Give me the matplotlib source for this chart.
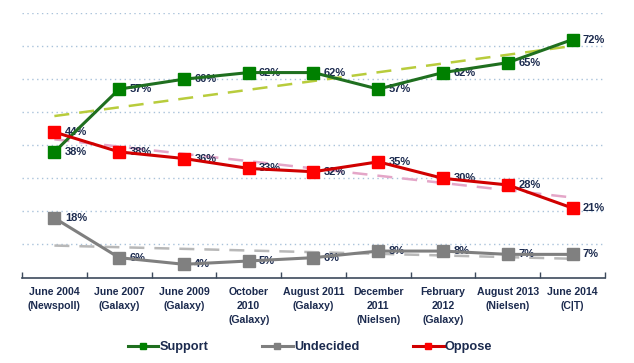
import numpy as np
import matplotlib.pyplot as plt
from matplotlib.lines import Line2D

categories = ["June 2004\n(Newspoll)", "June 2007\n(Galaxy)", "June 2009\n(Galaxy)",
              "October\n2010\n(Galaxy)", "August 2011\n(Galaxy)", "December\n2011\n(Nielsen)",
              "February\n2012\n(Galaxy)", "August 2013\n(Nielsen)", "June 2014\n(C|T)"]
support = [38, 57, 60, 62, 62, 57, 62, 65, 72]
undecided = [18, 6, 4, 5, 6, 8, 8, 7, 7]
oppose = [44, 38, 36, 33, 32, 35, 30, 28, 21]

FONT = ['Liberation Sans Narrow', 'Liberation Sans', 'DejaVu Sans']
NAVY = '#1c2b4f'

fig = plt.figure(figsize=(6.34, 3.63), dpi=100)
ax = fig.add_axes([0.0347, 0.2355, 0.9195, 0.7285])
x = np.arange(len(categories))

series = [
    ('Support', support, '#1f6f1f', '#008000', '#b8cc3c'),
    ('Undecided', undecided, '#7f7f7f', '#808080', '#b8b8b8'),
    ('Oppose', oppose, '#d00000', '#ff0000', '#e4a6c8'),
]

# trend lines (least squares fit of each series)
for name, vals, lc, mc, tc in series:
    k, b = np.polyfit(x, vals, 1)
    ax.plot([x[0], x[-1]], [b, k * x[-1] + b], color=tc, lw=1.8,
            dashes=(6, 4), zorder=2)

for name, vals, lc, mc, tc in series:
    ax.plot(x, vals, color=lc, lw=2.2, marker='s', markersize=8,
            markerfacecolor=mc, markeredgecolor=mc, zorder=4)
    for xi, v in zip(x, vals):
        ax.text(xi + 0.16, v, f'{v}%', ha='left', va='center', fontsize=8,
                fontweight='bold', color=NAVY, family=FONT, zorder=3)

ax.set_xlim(-0.5, len(categories) - 0.5)
ax.set_ylim(0, 80)
ax.set_yticks(np.arange(10, 81, 10))
ax.yaxis.grid(True, color='#a9c2da', lw=1, linestyle=(0, (1, 2.5)))
ax.tick_params(axis='y', left=False, labelleft=False)
for s in ['top', 'right', 'left']:
    ax.spines[s].set_visible(False)
ax.spines['bottom'].set_color('#3d4a5c')
ax.spines['bottom'].set_linewidth(1.2)

ax.set_xticks(x)
ax.set_xticklabels(categories, fontsize=7.6, fontweight='bold', color=NAVY,
                   family=FONT, linespacing=1.5, va='top')
ax.tick_params(axis='x', which='major', length=0, pad=7)
ax.set_xticks(np.arange(-0.5, len(categories), 1), minor=True)
ax.tick_params(axis='x', which='minor', length=4, direction='in',
               color='#3d4a5c', width=1)

handles = [Line2D([0], [0], color=lc, lw=2.2, marker='s', markersize=5,
                  markerfacecolor=mc, markeredgecolor=mc)
           for name, vals, lc, mc, tc in series]
leg = fig.legend(handles, [s[0] for s in series], loc='center',
                 bbox_to_anchor=(0.489, 0.044), ncol=3, frameon=False,
                 handlelength=2.4, handletextpad=0.1, columnspacing=4.2,
                 prop={'family': FONT, 'weight': 'bold', 'size': 9.2})
for t in leg.get_texts():
    t.set_color(NAVY)

fig.savefig('out.png', dpi=100)
